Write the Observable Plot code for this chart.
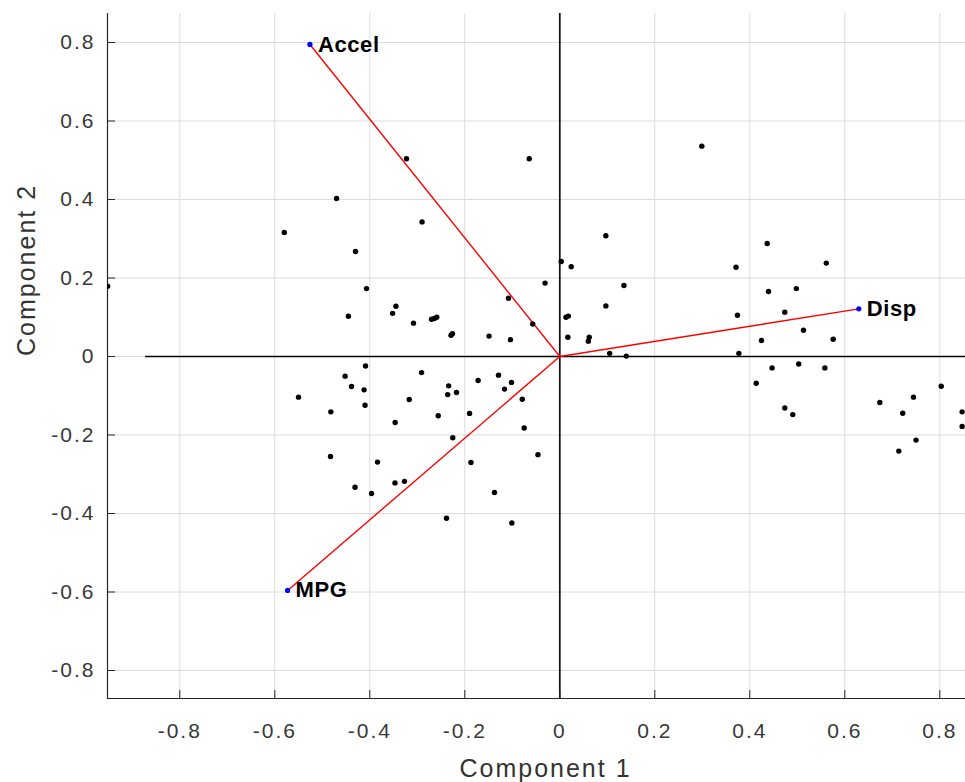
<!DOCTYPE html>
<html><head><meta charset="utf-8">
<script src="https://cdn.jsdelivr.net/npm/d3@7"></script>
<script src="https://cdn.jsdelivr.net/npm/@observablehq/plot@0.6"></script>
<style>
html,body{margin:0;padding:0;background:#fff;overflow:hidden}
</style></head><body><div id="chart"></div>
<script>
// Variable loadings (biplot vectors)
const varNames = ["MPG", "Accel", "Disp"];
const coefPC1 = [-0.573, -0.526, 0.6295];
const coefPC2 = [-0.596, 0.795, 0.1215];

// Observation scores
const scoreX = [
  -0.3227, -0.0644, -0.470, -0.290, -0.580, -0.430, 0.003, 0.024, -0.952, -0.031,
  -0.407, -0.108, -0.345, -0.352, -0.445, -0.308, -0.270, -0.264, -0.259, -0.229,
  -0.226, -0.149, -0.104, -0.057, 0.013, 0.018, 0.017, 0.299, 0.097, 0.135,
  0.097, 0.062, 0.060, 0.105, 0.140, 0.371, 0.4366, 0.561, 0.4394, 0.498,
  0.374, 0.4737, 0.513, 0.4246, 0.5756, 0.377, 0.447, 0.503, 0.558, 0.4135,
  0.4737, 0.4905, 0.6737, 0.722, 0.7446, 0.803, 0.847, 0.847, 0.750, 0.7137,
  -0.046, -0.409, -0.452, -0.4385, -0.412, -0.550, -0.291, -0.317, -0.410, -0.482,
  -0.3466, -0.234, -0.236, -0.2175, -0.172, -0.129, -0.1164, -0.1017, -0.079, -0.256,
  -0.190, -0.075, -0.2253, -0.4827, -0.3838, -0.187, -0.347, -0.327, -0.431, -0.3964,
  -0.1375, -0.2385, -0.101
];
const scoreY = [
  0.504, 0.504, 0.4025, 0.343, 0.316, 0.2675, 0.242, 0.229, 0.179, 0.187,
  0.173, 0.1486, 0.128, 0.110, 0.1027, 0.085, 0.095, 0.097, 0.100, 0.054,
  0.058, 0.052, 0.043, 0.083, 0.100, 0.103, 0.049, 0.536, 0.3075, 0.181,
  0.129, 0.049, 0.039, 0.008, 0.001, 0.2275, 0.288, 0.238, 0.1656, 0.173,
  0.105, 0.113, 0.067, 0.0408, 0.044, 0.008, -0.029, -0.019, -0.029, -0.068,
  -0.131, -0.148, -0.117, -0.1444, -0.1036, -0.0756, -0.141, -0.178, -0.213, -0.241,
  -0.250, -0.024, -0.050, -0.0764, -0.085, -0.1036, -0.041, -0.1096, -0.124, -0.141,
  -0.168, -0.0748, -0.097, -0.0917, -0.061, -0.0475, -0.083, -0.066, -0.1087, -0.151,
  -0.145, -0.182, -0.207, -0.2548, -0.269, -0.270, -0.322, -0.318, -0.333, -0.349,
  -0.3465, -0.412, -0.424
];

// Axes
const xTicks = [-0.8, -0.6, -0.4, -0.2, 0, 0.2, 0.4, 0.6, 0.8];
const yTicks = [-0.8, -0.6, -0.4, -0.2, 0, 0.2, 0.4, 0.6, 0.8];
const xDomain = [-0.9522, 0.8541];
const yDomain = [-0.8713, 0.8739];
const axisLimit = 0.872;
const xLabel = "Component 1";
const yLabel = "Component 2";

const scores = scoreX.map((x, i) => ({x, y: scoreY[i]}));
const vectors = varNames.map((name, i) => ({name, x: coefPC1[i], y: coefPC2[i]}));
const fmt = d => d === 0 ? "0" : d.toFixed(1);

const W = 965, H = 782, mL = 107, mR = 0, mT = 13, mB = 84;
const fw = W - mL - mR, fh = H - mT - mB;

const chart = Plot.plot({
  width: W, height: H,
  marginLeft: mL, marginRight: mR, marginTop: mT, marginBottom: mB,
  style: {fontFamily: "'Liberation Sans', Arial, sans-serif", background: "#fff"},
  x: {domain: xDomain},
  y: {domain: yDomain},
  marks: [
    Plot.gridX(xTicks, {stroke: "#dcdcdc", strokeOpacity: 1}),
    Plot.gridY(yTicks, {stroke: "#dcdcdc", strokeOpacity: 1}),
    Plot.ruleY([0], {x1: -axisLimit, x2: axisLimit, stroke: "black", strokeWidth: 1.3, clip: true}),
    Plot.ruleX([0], {stroke: "#111", strokeWidth: 1.7}),
    Plot.tickX(xTicks, {x: d => d, insetTop: fh - 8, stroke: "#262626"}),
    Plot.tickY(yTicks, {y: d => d, insetRight: fw - 8, stroke: "#262626"}),
    Plot.ruleX([xDomain[0]], {stroke: "#262626", strokeWidth: 1.2}),
    Plot.ruleY([yDomain[0]], {stroke: "#262626", strokeWidth: 1.2}),
    Plot.link(vectors, {x1: 0, y1: 0, x2: "x", y2: "y", stroke: "red", strokeWidth: 1.4}),
    Plot.dot(scores, {x: "x", y: "y", r: 2.7, fill: "black", clip: true}),
    Plot.dot(vectors, {x: "x", y: "y", r: 2.6, fill: "blue"}),
    Plot.text(vectors, {x: "x", y: "y", text: "name", textAnchor: "start", dx: 8, fontSize: 22, fontWeight: "bold", fill: "black", className: "vlabel"}),
    Plot.axisX(xTicks, {tickSize: 0, tickPadding: 25, tickFormat: fmt, fontSize: 21, color: "#383838", label: null}),
    Plot.axisY(yTicks, {tickSize: 0, tickPadding: 12, tickFormat: fmt, fontSize: 21, color: "#383838", label: null}),
    Plot.text([xLabel], {text: d => d, frameAnchor: "bottom", dy: 70, dx: 9, fontSize: 25, fill: "#333", lineAnchor: "middle", className: "alabel"}),
    Plot.text([yLabel], {text: d => d, frameAnchor: "left", dx: -81, rotate: -90, fontSize: 25, fill: "#333", lineAnchor: "middle", className: "alabel"})
  ]
});
document.getElementById("chart").appendChild(chart);
d3.select(chart).selectAll('g[aria-label="x-axis tick label"] text, g[aria-label="y-axis tick label"] text').style("letter-spacing", "2px");
d3.select(chart).selectAll('.alabel text').style("letter-spacing", "2px");
d3.select(chart).selectAll('.vlabel text').style("letter-spacing", "0.6px");
</script>
</body></html>
